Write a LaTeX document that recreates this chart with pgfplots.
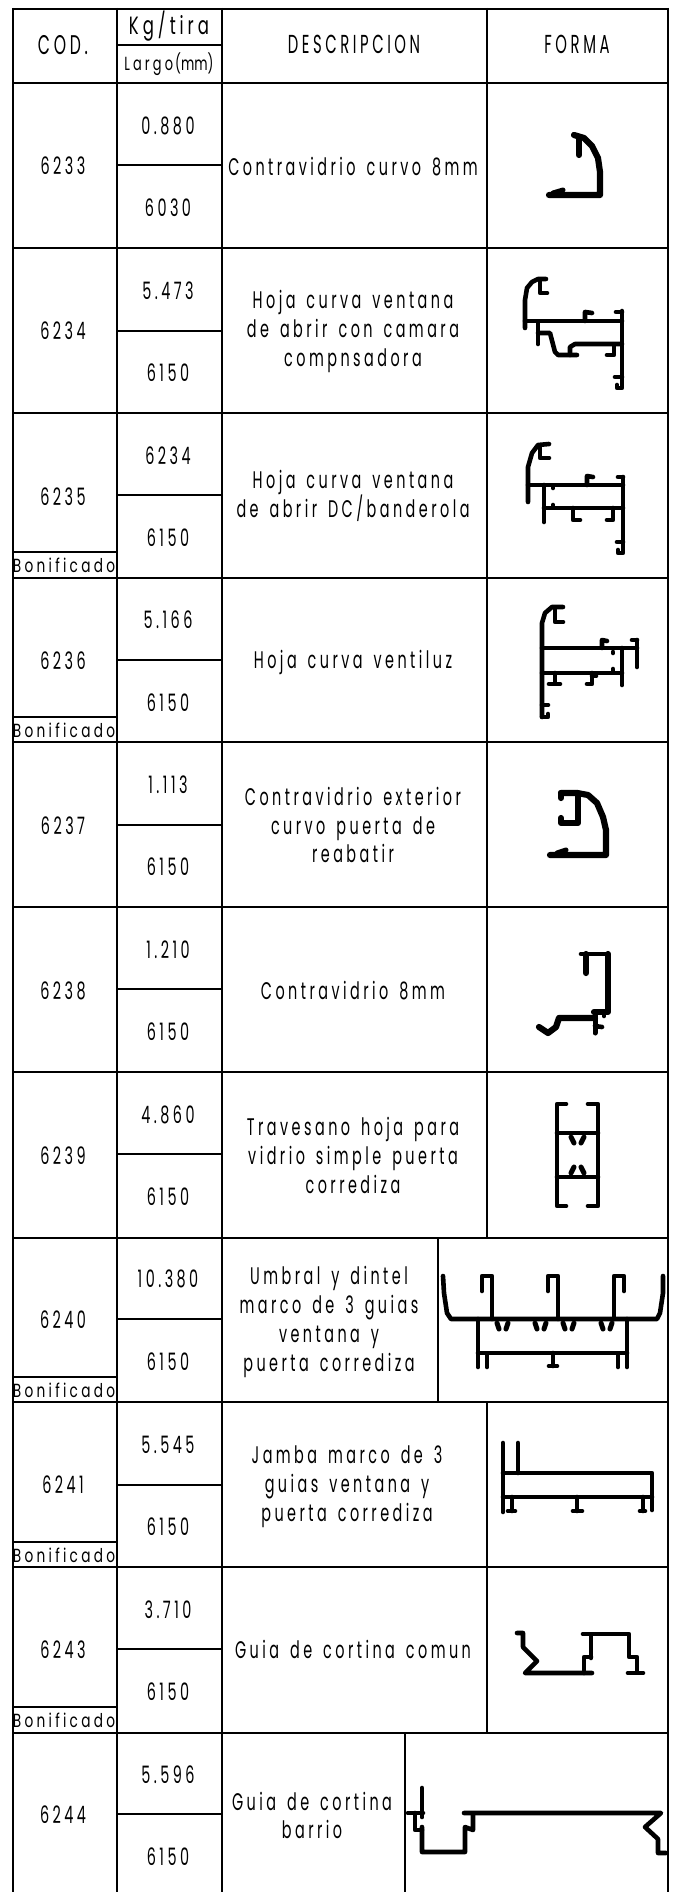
\documentclass[border=0pt]{standalone}
\usepackage{fontspec}
\usepackage{graphicx}
\usepackage{pgfplots}
\pgfplotsset{compat=1.18}
\setmainfont{Poppins}[LetterSpace=24,WordSpace=1.5]
\newcommand\T[5]{\node[inner sep=0pt,anchor=base,yshift={-0.34pt*#4}] at (axis cs:#1,#2) {\scalebox{#3}[1]{\fontsize{#4}{#4}\selectfont #5}};}
\newcommand\D[3]{\T{#1}{#2}{.6}{24}{#3}}
\newcommand\G[1]{\addplot[grid] coordinates {#1};}
\newcommand\Sx[1]{\addplot[shp] coordinates {#1};}
\newcommand\Sy[1]{\addplot[shpt] coordinates {#1};}
\newcommand\Sb[1]{\addplot[shpb] coordinates {#1};}
\begin{document}
\begin{tikzpicture}
\useasboundingbox (0,0) rectangle (674pt,1892pt);
\begin{axis}[
  width=674pt,height=1892pt,scale only axis,
  xmin=0,xmax=674,ymin=0,ymax=1892,y dir=reverse,
  hide axis,clip=true,
  grid/.style={black,line width=2pt,no markers,forget plot},
  shp/.style={black,line width=4.6pt,no markers,forget plot,line join=round,line cap=round},
  shpt/.style={black,line width=6.2pt,no markers,forget plot,line join=round,line cap=round},
  shpb/.style={black,line width=5pt,no markers,forget plot,line join=round,line cap=round},
]
% table
\G{(12,9)(669,9)} \G{(12,83)(669,83)}
\G{(12,248)(669,248)} \G{(12,413)(669,413)} \G{(12,578)(669,578)} \G{(12,742)(669,742)}
\G{(12,907)(669,907)} \G{(12,1072)(669,1072)} \G{(12,1238)(669,1238)} \G{(12,1402)(669,1402)}
\G{(12,1567)(669,1567)} \G{(12,1733)(669,1733)}
\G{(13,8)(13,1892)} \G{(117,8)(117,1892)} \G{(222,8)(222,1892)} \G{(668,8)(668,1892)}
\G{(487,8)(487,1238)} \G{(438,1238)(438,1402)} \G{(487,1402)(487,1733)} \G{(405,1733)(405,1892)}
\G{(117,45)(222,45)}
\G{(117,165)(222,165)} \G{(117,331)(222,331)} \G{(117,495)(222,495)} \G{(117,660)(222,660)}
\G{(117,825)(222,825)} \G{(117,989)(222,989)} \G{(117,1154)(222,1154)} \G{(117,1319)(222,1319)}
\G{(117,1485)(222,1485)} \G{(117,1649)(222,1649)} \G{(117,1814)(222,1814)}
\G{(13,552)(117,552)} \G{(13,717)(117,717)} \G{(13,1377)(117,1377)} \G{(13,1542)(117,1542)} \G{(13,1707)(117,1707)}
% header
\T{63}{45}{.58}{27}{COD.}
\T{169}{26}{.66}{25}{Kg/tira}
\T{169}{64}{.68}{19}{Largo\,{\addfontfeature{LetterSpace=0}(mm)}}
\T{354}{45}{.57}{26}{DESCRIPCION}
\T{577}{45}{.57}{26}{FORMA}
% codes and values
\D{63}{166}{6233}\D{168}{126}{0.880}\D{168}{208}{6030}
\D{63}{331}{6234}\D{168}{291}{5.473}\D{168}{373}{6150}
\D{63}{497}{6235}\D{168}{456}{6234}\D{168}{538}{6150}
\D{63}{661}{6236}\D{168}{620}{5.166}\D{168}{703}{6150}
\D{63}{826}{6237}\D{168}{785}{1.113}\D{168}{867}{6150}
\D{63}{991}{6238}\D{168}{950}{1.210}\D{168}{1032}{6150}
\D{63}{1156}{6239}\D{168}{1115}{4.860}\D{168}{1197}{6150}
\D{63}{1320}{6240}\D{168}{1279}{10.380}\D{168}{1362}{6150}
\D{63}{1485}{6241}\D{168}{1445}{5.545}\D{168}{1527}{6150}
\D{63}{1650}{6243}\D{168}{1610}{3.710}\D{168}{1692}{6150}
\D{63}{1815}{6244}\D{168}{1775}{5.596}\D{168}{1857}{6150}
% bonificado
\T{64}{566}{.72}{19}{Bonificado}\T{64}{731}{.72}{19}{Bonificado}\T{64}{1391}{.72}{19}{Bonificado}
\T{64}{1556}{.72}{19}{Bonificado}\T{64}{1721}{.72}{19}{Bonificado}
% descriptions
\D{353}{167}{Contravidrio curvo 8mm}
\D{353}{300}{Hoja curva ventana}\D{353}{329}{de abrir con camara}\D{353}{358}{compnsadora}
\D{353}{480}{Hoja curva ventana}\D{353}{509}{de abrir DC/banderola}
\D{353}{660}{Hoja curva ventiluz}
\D{353}{797}{Contravidrio exterior}\D{353}{826}{curvo puerta de}\D{353}{854}{reabatir}
\D{353}{991}{Contravidrio 8mm}
\D{353}{1127}{Travesano hoja para}\D{353}{1156}{vidrio simple puerta}\D{353}{1185}{corrediza}
\D{329}{1276}{Umbral y dintel}\D{329}{1305}{marco de 3 guias}\D{329}{1334}{ventana y}\D{329}{1363}{puerta corrediza}
\D{347}{1455}{Jamba marco de 3}\D{347}{1484}{guias ventana y}\D{347}{1513}{puerta corrediza}
\D{353}{1650}{Guia de cortina comun}
\D{312}{1802}{Guia de cortina}\D{312}{1830}{barrio}
% 6233
\Sy{(549,195)(600,195)(600,172)(598,158)(592,146)(584,138)(574,135)}
\Sy{(579,137)(579,155)}
\Sb{(553,193)(563,190)}
% 6234
\Sx{(525,328)(525,300)(527,288)(532,282)(538,279)(546,279)}
\Sx{(540,280)(540,293)(547,293)}
\Sx{(525,321)(622,321)}
\Sx{(622,311)(622,388)(617,388)(617,385)}
\Sx{(585,321)(585,312)(592,313)}
\Sx{(622,312)(616,312)}
\Sx{(538,322)(538,344)}
\Sx{(538,333)(550,333)(555,352)(558,355)(577,355)}
\Sx{(570,355)(570,347)(575,344)(622,344)}
\Sx{(607,355)(614,355)(614,347)}
\Sx{(615,377)(622,377)}
% 6235
\Sx{(528,502)(528,467)(532,453)(538,445)(549,444)}
\Sx{(540,447)(540,458)(549,458)}
\Sx{(528,485)(623,485)}
\Sx{(623,477)(623,553)(618,553)(618,550)}
\Sx{(587,485)(587,476)(593,477)}
\Sx{(623,477)(618,477)}
\Sx{(544,485)(544,522)}
\Sx{(544,508)(623,508)}
\Sx{(573,508)(573,520)(580,520)}
\Sx{(613,508)(613,520)(607,520)}
\Sx{(617,542)(623,542)}
\Sx{(553,487)(553,488)} \Sx{(553,505)(553,506)}
% 6236
\Sx{(542,717)(542,623)(545,613)(552,607)(563,607)}
\Sx{(555,608)(555,622)(563,622)}
\Sx{(542,717)(548,717)(548,714)}
\Sx{(542,705)(548,705)}
\Sx{(542,648)(637,648)}
\Sx{(637,640)(637,667)}
\Sx{(637,640)(632,640)}
\Sx{(602,648)(602,640)(607,641)}
\Sx{(622,648)(622,685)}
\Sx{(542,673)(622,673)}
\Sx{(555,673)(555,684)(549,684)}
\Sx{(555,684)(560,684)}
\Sx{(592,673)(592,684)(587,684)}
\Sx{(592,676)(596,676)}
\Sx{(613,652)(613,653)} \Sx{(613,669)(613,670)}
% 6237
\Sy{(550,855)(606,855)(606,830)(603,817)(597,803)(588,795)(577,793)(561,793)}
\Sy{(578,793)(578,823)(561,823)(561,818)}
\Sy{(561,793)(561,798)}
\Sb{(557,853)(566,850)}
% 6238
\Sx{(581,954)(608,954)}
\Sy{(608,954)(608,1012)(594,1012)}
\Sy{(586,954)(586,973)}
\Sb{(595,1012)(595,1033)}
\Sy{(595,1018)(559,1018)(556,1027)(548,1033)(539,1027)}
\Sx{(595,1026)(602,1027)}
\Sx{(604,1014)(604,1016)}
% 6239
\Sx{(566,1104)(557,1104)(557,1206)(566,1206)}
\Sx{(588,1104)(598,1104)(598,1206)(588,1206)}
\Sx{(557,1133)(598,1133)} \Sx{(557,1177)(598,1177)}
\Sb{(571,1137)(574,1143)} \Sb{(584,1137)(581,1143)}
\Sb{(571,1173)(574,1167)} \Sb{(584,1173)(581,1167)}
% 6240
\Sx{(443,1276)(444,1293)(447,1313)(451,1319)(657,1319)(660,1313)(663,1293)(663,1276)}
\Sx{(492,1319)(492,1276)(482,1276)(482,1291)}
\Sx{(558,1319)(558,1276)(548,1276)(548,1291)}
\Sx{(614,1319)(614,1276)(624,1276)(624,1291)}
\Sx{(478,1319)(478,1367)} \Sx{(627,1319)(627,1367)} \Sx{(478,1353)(627,1353)}
\Sx{(553,1353)(553,1366)} \Sx{(549,1366)(557,1366)}
\Sx{(487,1355)(487,1367)} \Sx{(618,1355)(618,1367)}
\Sb{(497,1323)(499,1329)} \Sb{(508,1323)(506,1329)}
\Sb{(535,1323)(537,1329)} \Sb{(546,1323)(544,1329)}
\Sb{(563,1323)(565,1329)} \Sb{(574,1323)(572,1329)}
\Sb{(601,1323)(603,1329)} \Sb{(612,1323)(610,1329)}
% 6241
\Sx{(503,1443)(503,1512)} \Sx{(518,1443)(518,1473)}
\Sx{(503,1473)(652,1473)(652,1510)} \Sx{(503,1497)(652,1497)}
\Sx{(512,1497)(512,1511)} \Sx{(508,1511)(515,1511)}
\Sx{(577,1497)(577,1511)} \Sx{(573,1511)(582,1511)}
\Sx{(643,1497)(643,1511)} \Sx{(640,1511)(645,1511)}
% 6243
\Sx{(517,1633)(523,1633)(523,1647)(537,1661)(525,1673)(592,1673)}
\Sx{(584,1673)(584,1657)(591,1657)}
\Sx{(591,1658)(591,1634)(583,1634)(629,1634)(629,1657)(637,1657)(637,1672)}
\Sx{(628,1673)(643,1673)}
% 6244
\Sx{(408,1813)(423,1813)} \Sx{(422,1788)(422,1817)}
\Sx{(415,1813)(415,1830)(422,1830)}
\Sx{(422,1827)(422,1852)(465,1852)(465,1827)(473,1830)(473,1815)}
\Sx{(464,1813)(661,1813)(645,1827)(658,1839)(658,1853)(666,1853)}
\end{axis}
\end{tikzpicture}
\end{document}
